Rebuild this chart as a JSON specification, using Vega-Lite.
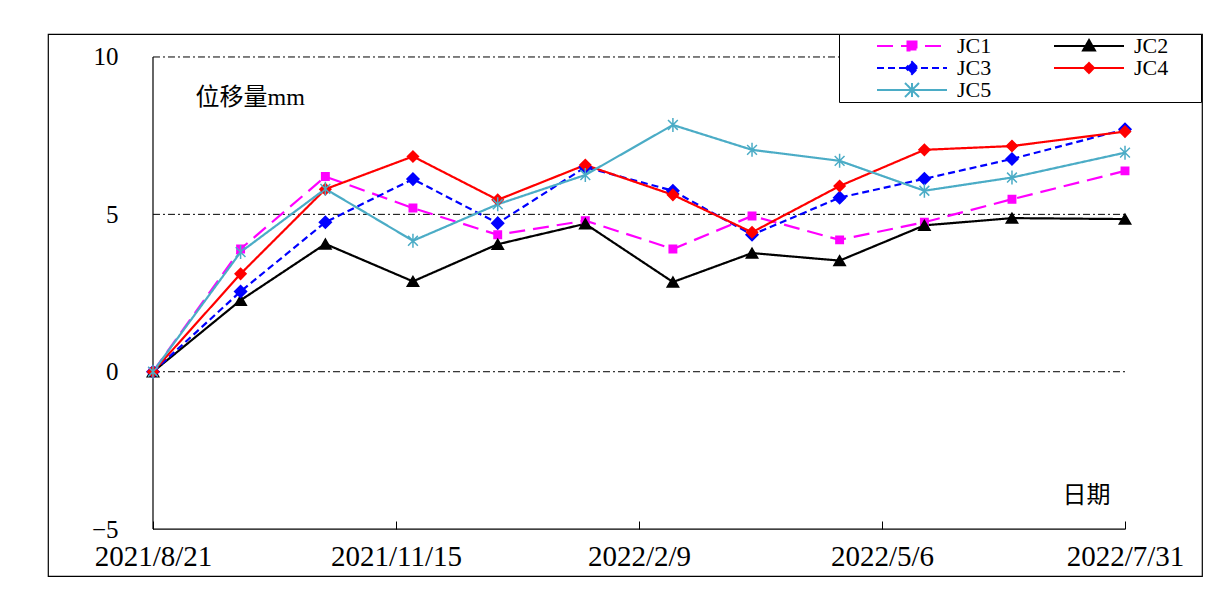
{
  "$schema": "https://vega.github.io/schema/vega-lite/v6.json",
  "width": 1154,
  "height": 542,
  "autosize": {"type": "none"},
  "padding": {"left": 48, "top": 34, "right": 28, "bottom": 14},
  "background": "white",
  "config": {
    "view": {"stroke": "#000", "strokeWidth": 1.2},
    "font": "Liberation Serif"
  },
  "datasets": {
    "obs": [
      {"date": "2021-08-21", "series": "JC1", "value": 0},
      {"date": "2021-09-21", "series": "JC1", "value": 3.9},
      {"date": "2021-10-21", "series": "JC1", "value": 6.2},
      {"date": "2021-11-21", "series": "JC1", "value": 5.2},
      {"date": "2021-12-21", "series": "JC1", "value": 4.35},
      {"date": "2022-01-21", "series": "JC1", "value": 4.8},
      {"date": "2022-02-21", "series": "JC1", "value": 3.9},
      {"date": "2022-03-21", "series": "JC1", "value": 4.95},
      {"date": "2022-04-21", "series": "JC1", "value": 4.19},
      {"date": "2022-05-21", "series": "JC1", "value": 4.75},
      {"date": "2022-06-21", "series": "JC1", "value": 5.48},
      {"date": "2022-07-31", "series": "JC1", "value": 6.38},
      {"date": "2021-08-21", "series": "JC2", "value": 0},
      {"date": "2021-09-21", "series": "JC2", "value": 2.27},
      {"date": "2021-10-21", "series": "JC2", "value": 4.06},
      {"date": "2021-11-21", "series": "JC2", "value": 2.87},
      {"date": "2021-12-21", "series": "JC2", "value": 4.05},
      {"date": "2022-01-21", "series": "JC2", "value": 4.7},
      {"date": "2022-02-21", "series": "JC2", "value": 2.85},
      {"date": "2022-03-21", "series": "JC2", "value": 3.77},
      {"date": "2022-04-21", "series": "JC2", "value": 3.53},
      {"date": "2022-05-21", "series": "JC2", "value": 4.65},
      {"date": "2022-06-21", "series": "JC2", "value": 4.88},
      {"date": "2022-07-31", "series": "JC2", "value": 4.85},
      {"date": "2021-08-21", "series": "JC3", "value": 0},
      {"date": "2021-09-21", "series": "JC3", "value": 2.55},
      {"date": "2021-10-21", "series": "JC3", "value": 4.75},
      {"date": "2021-11-21", "series": "JC3", "value": 6.12},
      {"date": "2021-12-21", "series": "JC3", "value": 4.72},
      {"date": "2022-01-21", "series": "JC3", "value": 6.5},
      {"date": "2022-02-21", "series": "JC3", "value": 5.75},
      {"date": "2022-03-21", "series": "JC3", "value": 4.35},
      {"date": "2022-04-21", "series": "JC3", "value": 5.53},
      {"date": "2022-05-21", "series": "JC3", "value": 6.13},
      {"date": "2022-06-21", "series": "JC3", "value": 6.76},
      {"date": "2022-07-31", "series": "JC3", "value": 7.7},
      {"date": "2021-08-21", "series": "JC4", "value": 0},
      {"date": "2021-09-21", "series": "JC4", "value": 3.11},
      {"date": "2021-10-21", "series": "JC4", "value": 5.8},
      {"date": "2021-11-21", "series": "JC4", "value": 6.84},
      {"date": "2021-12-21", "series": "JC4", "value": 5.46},
      {"date": "2022-01-21", "series": "JC4", "value": 6.57},
      {"date": "2022-02-21", "series": "JC4", "value": 5.62},
      {"date": "2022-03-21", "series": "JC4", "value": 4.43},
      {"date": "2022-04-21", "series": "JC4", "value": 5.9},
      {"date": "2022-05-21", "series": "JC4", "value": 7.05},
      {"date": "2022-06-21", "series": "JC4", "value": 7.17},
      {"date": "2022-07-31", "series": "JC4", "value": 7.63},
      {"date": "2021-08-21", "series": "JC5", "value": 0},
      {"date": "2021-09-21", "series": "JC5", "value": 3.8},
      {"date": "2021-10-21", "series": "JC5", "value": 5.81},
      {"date": "2021-11-21", "series": "JC5", "value": 4.16},
      {"date": "2021-12-21", "series": "JC5", "value": 5.32},
      {"date": "2022-01-21", "series": "JC5", "value": 6.25},
      {"date": "2022-02-21", "series": "JC5", "value": 7.84},
      {"date": "2022-03-21", "series": "JC5", "value": 7.05},
      {"date": "2022-04-21", "series": "JC5", "value": 6.7},
      {"date": "2022-05-21", "series": "JC5", "value": 5.75},
      {"date": "2022-06-21", "series": "JC5", "value": 6.17},
      {"date": "2022-07-31", "series": "JC5", "value": 6.96}
    ],
    "grid": [{"value": 0}, {"value": 5}, {"value": 10}],
    "one": [{"k": 1}]
  },
  "layer": [
    {
      "data": {"name": "grid"},
      "mark": {"type": "rule", "color": "#000", "strokeWidth": 1, "strokeDash": [7, 3, 2, 3]},
      "encoding": {
        "x": {"datum": {"year": 2021, "month": 8, "date": 21, "utc": true}, "type": "temporal",
              "scale": {"type": "utc", "domain": [{"year": 2021, "month": 7, "date": 14, "hours": 20, "minutes": 10, "utc": true}, {"year": 2022, "month": 8, "date": 27, "hours": 6, "utc": true}]}, "axis": null},
        "x2": {"datum": {"year": 2022, "month": 7, "date": 31, "utc": true}},
        "y": {"field": "value", "type": "quantitative", "scale": {"domain": [-6.49, 10.73], "nice": false, "zero": false}, "axis": null}
      }
    },
    {
      "data": {"name": "one"},
      "mark": {"type": "rule", "color": "#000", "strokeWidth": 1.2},
      "encoding": {
        "x": {"datum": {"year": 2021, "month": 8, "date": 21, "utc": true}, "type": "temporal",
              "scale": {"type": "utc", "domain": [{"year": 2021, "month": 7, "date": 14, "hours": 20, "minutes": 10, "utc": true}, {"year": 2022, "month": 8, "date": 27, "hours": 6, "utc": true}]}, "axis": null},
        "x2": {"datum": {"year": 2022, "month": 7, "date": 31, "utc": true}},
        "y": {"datum": -5, "type": "quantitative", "scale": {"domain": [-6.49, 10.73], "nice": false, "zero": false}, "axis": null}
      }
    },
    {
      "data": {"name": "one"},
      "mark": {"type": "rule", "color": "#000", "strokeWidth": 1.2},
      "encoding": {
        "x": {"datum": {"year": 2021, "month": 8, "date": 21, "utc": true}, "type": "temporal",
              "scale": {"type": "utc", "domain": [{"year": 2021, "month": 7, "date": 14, "hours": 20, "minutes": 10, "utc": true}, {"year": 2022, "month": 8, "date": 27, "hours": 6, "utc": true}]}, "axis": null},
        "y": {"datum": -5, "type": "quantitative", "scale": {"domain": [-6.49, 10.73], "nice": false, "zero": false}, "axis": null},
        "y2": {"datum": 10}
      }
    },
    {
      "data": {"name": "obs"},
      "mark": {"type": "line", "strokeWidth": 2.2},
      "encoding": {
        "x": {"field": "date", "type": "temporal",
              "scale": {"type": "utc", "domain": [{"year": 2021, "month": 7, "date": 14, "hours": 20, "minutes": 10, "utc": true}, {"year": 2022, "month": 8, "date": 27, "hours": 6, "utc": true}]},
              "axis": {
                "values": [
                  {"year": 2021, "month": 8, "date": 21, "utc": true},
                  {"year": 2021, "month": 11, "date": 15, "utc": true},
                  {"year": 2022, "month": 2, "date": 9, "utc": true},
                  {"year": 2022, "month": 5, "date": 6, "utc": true},
                  {"year": 2022, "month": 7, "date": 31, "utc": true}
                ],
                "format": "%Y/%-m/%-d",
                "offset": -47,
                "domain": false,
                "grid": false,
                "ticks": true,
                "tickSize": -8,
                "tickColor": "#000",
                "tickWidth": 1,
                "labelPadding": 21,
                "labelFont": "Liberation Serif",
                "labelFontSize": 29,
                "labelColor": "#000",
                "labelFlush": false,
                "labelOverlap": false,
                "labelBaseline": "top",
                "title": "日期",
                "titleX": 1062,
                "titleY": -34,
                "titleAlign": "right",
                "titleBaseline": "middle",
                "titleAngle": 0,
                "titleFont": "Liberation Serif, Noto Sans CJK SC",
                "titleFontSize": 24,
                "titleFontWeight": "normal",
                "titleColor": "#000"
              }},
        "y": {"field": "value", "type": "quantitative",
              "scale": {"domain": [-6.49, 10.73], "nice": false, "zero": false},
              "axis": {
                "values": [-5, 0, 5, 10],
                "format": "d",
                "offset": -105,
                "domain": false,
                "ticks": false,
                "grid": false,
                "labelPadding": 35,
                "labelFont": "Liberation Serif",
                "labelFontSize": 25,
                "labelColor": "#000",
                "labelFlush": false,
                "labelOverlap": false,
                "title": "位移量mm",
                "titleX": 42,
                "titleY": 63,
                "titleAngle": 0,
                "titleAlign": "left",
                "titleBaseline": "middle",
                "titleFont": "Liberation Serif, Noto Sans CJK SC",
                "titleFontSize": 24,
                "titleFontWeight": "normal",
                "titleColor": "#000"
              }},
        "color": {"field": "series", "type": "nominal",
                  "scale": {"domain": ["JC1", "JC2", "JC3", "JC4", "JC5"], "range": ["#FF00FF", "#000000", "#0000FF", "#FF0000", "#4BACC6"]},
                  "legend": null},
        "strokeDash": {"field": "series", "type": "nominal",
                       "scale": {"domain": ["JC1", "JC2", "JC3", "JC4", "JC5"], "range": [[16, 8], [1, 0], [7, 4], [1, 0], [1, 0]]},
                       "legend": null}
      }
    },
    {
      "data": {"name": "obs"},
      "mark": {"type": "point", "filled": true, "opacity": 1, "strokeWidth": 1.5},
      "encoding": {
        "x": {"field": "date", "type": "temporal",
              "scale": {"type": "utc", "domain": [{"year": 2021, "month": 7, "date": 14, "hours": 20, "minutes": 10, "utc": true}, {"year": 2022, "month": 8, "date": 27, "hours": 6, "utc": true}]}, "axis": null},
        "y": {"field": "value", "type": "quantitative", "scale": {"domain": [-6.49, 10.73], "nice": false, "zero": false}, "axis": null},
        "color": {"field": "series", "type": "nominal",
                  "scale": {"domain": ["JC1", "JC2", "JC3", "JC4", "JC5"], "range": ["#FF00FF", "#000000", "#0000FF", "#FF0000", "#4BACC6"]},
                  "legend": null},
        "stroke": {"field": "series", "type": "nominal",
                   "scale": {"domain": ["JC1", "JC2", "JC3", "JC4", "JC5"], "range": ["#FF00FF", "#000000", "#0000FF", "#FF0000", "#4BACC6"]},
                   "legend": null},
        "shape": {"field": "series", "type": "nominal",
                  "scale": {"domain": ["JC1", "JC2", "JC3", "JC4", "JC5"], "range": ["square", "triangle-up", "diamond", "diamond", "M0,-1L0,1M-0.7,-0.7L0.7,0.7M-0.7,0.7L0.7,-0.7"]},
                  "legend": null},
        "size": {"field": "series", "type": "nominal",
                 "scale": {"type": "ordinal", "domain": ["JC1", "JC2", "JC3", "JC4", "JC5"], "range": [55, 130, 144, 121, 196]},
                 "legend": null}
      }
    },
    {
      "data": {"name": "obs"},
      "mark": {"type": "point", "opacity": 0},
      "encoding": {
        "x": {"field": "date", "type": "temporal",
              "scale": {"type": "utc", "domain": [{"year": 2021, "month": 7, "date": 14, "hours": 20, "minutes": 10, "utc": true}, {"year": 2022, "month": 8, "date": 27, "hours": 6, "utc": true}]}, "axis": null},
        "y": {"field": "value", "type": "quantitative", "scale": {"domain": [-6.49, 10.73], "nice": false, "zero": false}, "axis": null},
        "fill": {"field": "series", "type": "nominal",
                 "scale": {"domain": ["JC1", "JC2", "JC3", "JC4", "JC5"], "range": ["#FF00FF", "#000000", "#0000FF", "#FF0000", "#4BACC6"]},
                 "legend": {"orient": "none", "legendX": 791, "legendY": 0, "direction": "horizontal", "columns": 2, "title": null, "padding": 1, "strokeColor": "#000", "fillColor": "#fff", "rowPadding": 0, "columnPadding": 22, "symbolSize": 400, "symbolStrokeWidth": 2, "symbolOpacity": 1, "labelOffset": 95, "labelFont": "Liberation Serif", "labelFontSize": 22, "labelColor": "#000"}},
        "stroke": {"field": "series", "type": "nominal",
                   "scale": {"domain": ["JC1", "JC2", "JC3", "JC4", "JC5"], "range": ["#FF00FF", "#000000", "#0000FF", "#FF0000", "#4BACC6"]},
                   "legend": {"orient": "none", "legendX": 791, "legendY": 0, "direction": "horizontal", "columns": 2, "title": null, "padding": 1, "strokeColor": "#000", "fillColor": "#fff", "rowPadding": 0, "columnPadding": 22, "symbolSize": 400, "symbolStrokeWidth": 2, "symbolOpacity": 1, "labelOffset": 95, "labelFont": "Liberation Serif", "labelFontSize": 22, "labelColor": "#000"}},
        "shape": {"field": "series", "type": "nominal",
                  "scale": {"domain": ["JC1", "JC2", "JC3", "JC4", "JC5"], "range": [
                    "M-1,0M2.6,0L9.6,0M5.65,-0.45L6.55,-0.45L6.55,0.45L5.65,0.45Z",
                    "M-1,0M16.8,0M2.6,0L9.6,0M6.1,-0.6L6.7,0.45L5.5,0.45Z",
                    "M-1,0M2.6,0L9.6,0M6.1,-0.6L6.7,0L6.1,0.6L5.5,0Z",
                    "M-1,0M16.8,0M2.6,0L9.6,0M6.1,-0.5L6.6,0L6.1,0.5L5.6,0Z",
                    "M-1,0M2.6,0L9.6,0M6.1,-0.7L6.1,0.7M5.4,-0.7L6.8,0.7M5.4,0.7L6.8,-0.7"
                  ]},
                  "legend": {"orient": "none", "legendX": 791, "legendY": 0, "direction": "horizontal", "columns": 2, "title": null, "padding": 1, "strokeColor": "#000", "fillColor": "#fff", "rowPadding": 0, "columnPadding": 22, "symbolSize": 400, "symbolStrokeWidth": 2, "symbolOpacity": 1, "labelOffset": 95, "labelFont": "Liberation Serif", "labelFontSize": 22, "labelColor": "#000"}},
        "strokeDash": {"field": "series", "type": "nominal",
                       "scale": {"domain": ["JC1", "JC2", "JC3", "JC4", "JC5"], "range": [[16, 8], [1, 0], [7, 4], [1, 0], [1, 0]]},
                       "legend": {"orient": "none", "legendX": 791, "legendY": 0, "direction": "horizontal", "columns": 2, "title": null, "padding": 1, "strokeColor": "#000", "fillColor": "#fff", "rowPadding": 0, "columnPadding": 22, "symbolSize": 400, "symbolStrokeWidth": 2, "symbolOpacity": 1, "labelOffset": 95, "labelFont": "Liberation Serif", "labelFontSize": 22, "labelColor": "#000"}}
      }
    }
  ],
  "resolve": {
    "scale": {"color": "independent", "fill": "independent", "stroke": "independent", "shape": "independent", "size": "independent", "strokeDash": "independent"},
    "axis": {"x": "independent", "y": "independent"}
  }
}
